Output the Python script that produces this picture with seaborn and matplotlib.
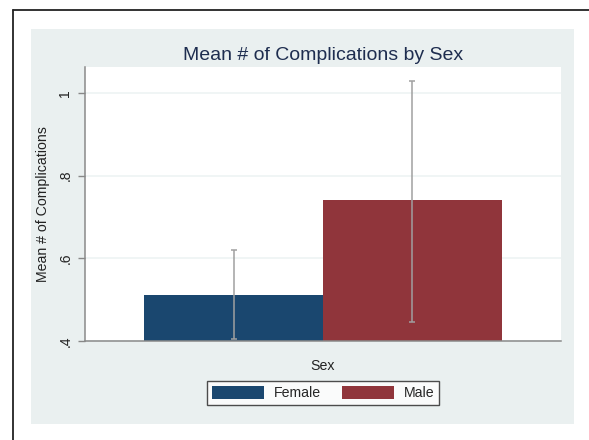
import numpy as np
import pandas as pd
import matplotlib
matplotlib.use("Agg")
import matplotlib.pyplot as plt
from matplotlib.patches import Rectangle
from matplotlib.lines import Line2D
import seaborn as sns

# ---- data ----
sexes = ["Female", "Male"]
means = [0.511, 0.740]
ci_low = [0.405, 0.447]
ci_high = [0.619, 1.030]
yticks = [0.4, 0.6, 0.8, 1.0]
ytick_labels = [".4", ".6", ".8", "1"]
colors = ["#1a476f", "#90353b"]

sns.set_theme(style="white")
plt.rcParams["font.family"] = ["Liberation Sans", "DejaVu Sans"]

W, H = 589, 440
fig = plt.figure(figsize=(W / 100, H / 100), dpi=100)
fig.patch.set_facecolor("white")

# outer frame lines (left & top visible)
fig.add_artist(Line2D([13 / W, 13 / W], [0, 1 - 10 / H], color="#222222", lw=1.3, transform=fig.transFigure))
fig.add_artist(Line2D([13 / W, 1], [1 - 10 / H, 1 - 10 / H], color="#222222", lw=1.3, transform=fig.transFigure))

# light graph region
bg = "#eaf0f0"
fig.add_artist(Rectangle((31 / W, 1 - 424 / H), (574 - 31) / W, (424 - 29) / H,
                         transform=fig.transFigure, facecolor=bg, edgecolor="none", zorder=0))

ax = fig.add_axes([85 / W, 1 - 341 / H, (561 - 85) / W, (341 - 67) / H])
ax.set_facecolor("white")

df = pd.DataFrame({"grp": ["Sex"] * len(sexes), "Sex": sexes, "Mean": means})
sns.barplot(data=df, x="grp", y="Mean", hue="Sex", palette=colors, width=0.752,
            errorbar=None, saturation=1, linewidth=0, ax=ax)

# error bars from bar centers
centers = [p.get_x() + p.get_width() / 2 for p in ax.patches if p.get_width() > 0][:len(means)]
m = np.array(means)
yerr = [m - np.array(ci_low), np.array(ci_high) - m]
ax.errorbar(centers, m, yerr=yerr, fmt="none", ecolor="#a0a0a0", elinewidth=1.1,
            capsize=2.5, capthick=1.1, zorder=5)

ax.set_xlim(-0.5, 0.5)
ax.set_ylim(0.4, 1.063)
ax.set_yticks(yticks)
ax.set_yticklabels(ytick_labels, rotation=90, va="center", fontsize=10, color="#222222")
ax.set_xticks([])
ax.yaxis.grid(True, color="#edf3f4", lw=1.2)
ax.set_axisbelow(True)
ax.tick_params(axis="y", direction="out", length=5, width=1, color="#888888", pad=4, left=True)
for s in ["top", "right"]:
    ax.spines[s].set_visible(False)
for s in ["left", "bottom"]:
    ax.spines[s].set_color("#8a8a8a")
    ax.spines[s].set_linewidth(1.1)

ax.set_ylabel("Mean # of Complications", fontsize=10.2, color="#222222", labelpad=6)
ax.set_xlabel("Sex", fontsize=10.2, color="#222222", labelpad=13)
ax.set_title("Mean # of Complications by Sex", fontsize=14, color="#1e2d4f", pad=5)

handles, labels = ax.get_legend_handles_labels()
if ax.get_legend() is not None:
    ax.get_legend().remove()
leg = fig.legend(handles, labels, loc="center", bbox_to_anchor=(323 / W, 1 - 393 / H), ncol=2,
                 fontsize=10.2, frameon=True, fancybox=False, handlelength=3.7, handleheight=1.0,
                 handletextpad=0.65, columnspacing=1.5, borderpad=0.35)
leg.get_frame().set_edgecolor("#222222")
leg.get_frame().set_linewidth(1.0)
leg.get_frame().set_facecolor("white")

fig.savefig("out.png", dpi=100)
